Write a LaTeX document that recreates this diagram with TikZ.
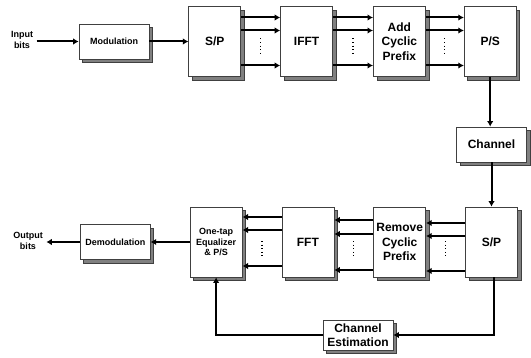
\documentclass[tikz,border=0pt]{standalone}
\usepackage{fontspec}
\setmainfont{Liberation Sans}
\usetikzlibrary{arrows.meta,positioning,shadows,calc}

\begin{document}
\begin{tikzpicture}[x=1pt,y=1pt,
  node distance=39pt,
  blk/.style={draw=black!75,fill=white,line width=0.8pt,minimum width=52pt,
              minimum height=70pt,inner sep=0pt,align=center,
              font=\fontsize{12}{14.5}\selectfont\bfseries,
              copy shadow={shadow xshift=3.5pt,shadow yshift=-3.5pt,fill=black!50,draw=black!75}},
  flat/.style={blk,minimum width=70pt,minimum height=35pt},
  small/.style={font=\fontsize{9}{10.5}\selectfont\bfseries},
  arrow/.style={-{Latex[length=5.5pt,width=6.5pt]},line width=2pt},
  dots/.style={line width=1.2pt,dash pattern=on 1pt off 2.6pt}]
  \useasboundingbox (0,0) rectangle (531,357);
  % transmitter
  \node[align=center,small] (in) at (22,317) {Input\\bits};
  \node[flat,small] (mod) at (114,315.5) {Modulation};
  \node[blk,right=39pt of mod] (sptx) {S/P};
  \node[blk,right=of sptx] (ifft) {IFFT};
  \node[blk,right=40pt of ifft] (acp) {Add\\Cyclic\\Prefix};
  \node[blk,right=38pt of acp] (ps) {P/S};
  \node[flat] (chan) at (491.5,212.5) {Channel};
  % receiver
  \node[blk] (sprx) at (491.5,115) {S/P};
  \node[blk,left=of sprx] (rcp) {Remove\\Cyclic\\Prefix};
  \node[blk,left=of rcp] (fft) {FFT};
  \node[blk,small,left=of fft] (eq) {One-tap\\Equalizer\\\& P/S};
  \node[flat,small,left=of eq] (demod) {Demodulation};
  \node[align=center,small] (out) at (28,116) {Output\\bits};
  \node[flat,minimum height=30pt] (ce) at (358,22) {Channel\\Estimation};
  \draw[arrow] (in.east |- mod.west) -- (mod);
  \draw[arrow] (mod) -- (sptx);
  \foreach \dy in {24,11,-24} {
    \draw[arrow] ([yshift=\dy]sptx.east) -- ([yshift=\dy]ifft.west);
    \draw[arrow] ([yshift=\dy]ifft.east) -- ([yshift=\dy]acp.west);
    \draw[arrow] ([yshift=\dy]acp.east) -- ([yshift=\dy]ps.west);
  }
  \foreach \a/\b in {sptx/ifft,ifft/acp,acp/ps}
    \draw[dots] ($(\a.east)!.5!(\b.west)+(0,3)$) -- ++(0,-16);
  \draw[arrow] (ps.south) -- (ps.south |- chan.north);
  \draw[arrow] (chan.south) -- (chan.south |- sprx.north);
  \foreach \dy in {19,6,-29}
    \draw[arrow] ([yshift=\dy]sprx.west) -- ([yshift=\dy]rcp.east);
  \foreach \dy in {22,8,-28}
    \draw[arrow] ([yshift=\dy]rcp.west) -- ([yshift=\dy]fft.east);
  \foreach \dy in {25,12,-24}
    \draw[arrow] ([yshift=\dy]fft.west) -- ([yshift=\dy]eq.east);
  \foreach \a/\b in {eq/fft,fft/rcp,rcp/sprx}
    \draw[dots] ($(\a.east)!.5!(\b.west)+(0,1)$) -- ++(0,-16);
  \draw[arrow] (eq) -- (demod);
  \draw[arrow] (demod) -- (out.east |- demod.west);
  \draw[arrow] ([xshift=2.5pt]sprx.south) |- (ce.east);
  \draw[arrow] (ce.west) -| (eq.south);
\end{tikzpicture}
\end{document}
